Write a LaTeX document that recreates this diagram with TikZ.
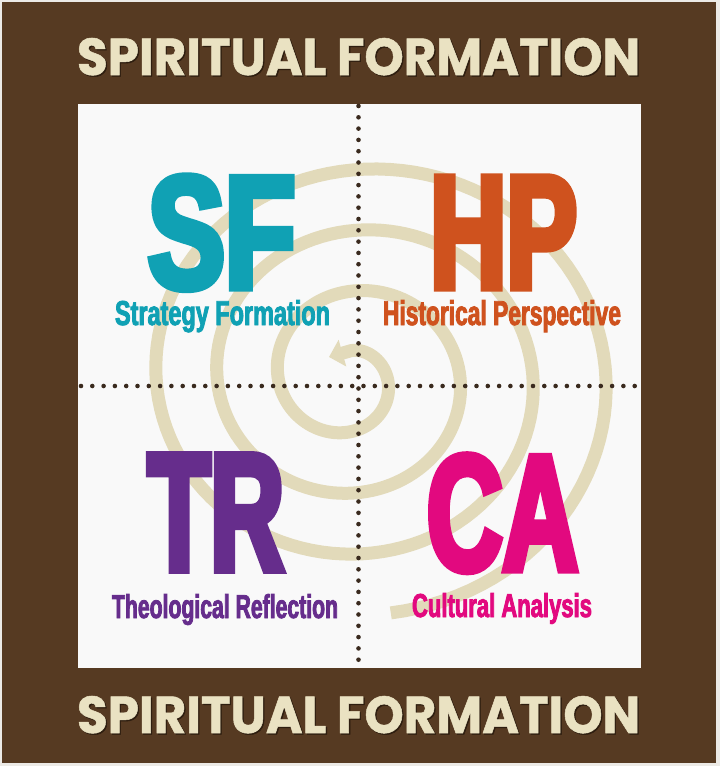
\documentclass[tikz,border=0pt]{standalone}
\usepackage{fontspec}
\usepackage{graphicx}
\setmainfont{Liberation Sans}
\newfontfamily\heavy{Liberation Sans}[BoldFeatures={FakeStretch=0.72, FakeBold=4.5}]
\newfontfamily\heavysub{Liberation Sans}[BoldFeatures={FakeStretch=0.68, FakeBold=2.5}]
\newfontfamily\titlefont{Poppins}[BoldFeatures={FakeBold=1}]
\usetikzlibrary{arrows.meta}
\definecolor{edgegray}{HTML}{ECEAE6}
\definecolor{framebrown}{HTML}{563A22}
\definecolor{shadowbrown}{HTML}{2E1E10}
\definecolor{creamtxt}{HTML}{EAE2C2}
\definecolor{paper}{HTML}{F9F9F9}
\definecolor{spiralc}{HTML}{E2DABA}
\definecolor{dotc}{HTML}{3A2A1E}
\definecolor{teal}{HTML}{10A1B4}
\definecolor{rust}{HTML}{CF521E}
\definecolor{grape}{HTML}{662D8C}
\definecolor{magentac}{HTML}{E2097F}
\tikzset{
  txt/.style={inner sep=0pt, outer sep=0pt, anchor=base west},
  dotline/.style={draw=dotc, line width=4.6pt, line cap=round, dash pattern=on 0pt off 11.3pt},
  spiralband/.style={draw=spiralc, line width=13pt}
}
\begin{document}
\begin{tikzpicture}[x=1pt,y=-1pt]
\useasboundingbox (0,0) rectangle (720,766);
\fill[edgegray] (0,0) rectangle (720,766);
\fill[framebrown] (2,2) rectangle (716,763);
\fill[paper] (78,104) rectangle (641,668);
% spiral
\coordinate (tipc) at (329,357);
\draw[spiralband, {Triangle[width=27pt,length=14pt]}-]
  (tipc) -- plot[domain=0.2:21.9, samples=400, variable=\t]
  ({346.2+0.955*\t+(22.5+10.66*\t)*sin(\t r)},{376.75-(24.75+9.7*\t)*cos(\t r)});
% dotted dividers
\coordinate (vtop) at (358.5,106);
\coordinate (vbot) at (358.5,668);
\coordinate (hleft) at (81,386);
\coordinate (hright) at (640,386);
\draw[dotline] (vtop) -- (vbot);
\draw[dotline] (hleft) -- (hright);
% titles
\node[txt, text=shadowbrown] (t1s) at (78.3,76.3) {\resizebox{563pt}{37pt}{\titlefont\bfseries SPIRITUAL FORMATION}};
\node[txt, text=creamtxt] (t1) at (77,75) {\resizebox{563pt}{37pt}{\titlefont\bfseries SPIRITUAL FORMATION}};
\node[txt, text=shadowbrown] (t2s) at (78.3,734.3) {\resizebox{563pt}{37pt}{\titlefont\bfseries SPIRITUAL FORMATION}};
\node[txt, text=creamtxt] (t2) at (77,733) {\resizebox{563pt}{37pt}{\titlefont\bfseries SPIRITUAL FORMATION}};
% quadrant letters
\node[txt, text=teal] (sf) at (148,288) {\resizebox{147pt}{112pt}{\heavy\bfseries SF}};
\node[txt, text=teal] (sfl) at (115,325) {\resizebox{215pt}{25pt}{\heavysub\bfseries Strategy Formation}};
\node[txt, text=rust] (hp) at (430,288) {\resizebox{147pt}{111pt}{\heavy\bfseries HP}};
\node[txt, text=rust] (hpl) at (383,325) {\resizebox{238pt}{25pt}{\heavysub\bfseries Historical Perspective}};
\node[txt, text=grape] (tr) at (148,570) {\resizebox{136pt}{115pt}{\heavy\bfseries TR}};
\node[txt, text=grape] (trl) at (112,618) {\resizebox{226pt}{24pt}{\heavysub\bfseries Theological Reflection}};
\node[txt, text=magentac] (ca) at (427,570) {\resizebox{151pt}{115pt}{\heavy\bfseries CA}};
\node[txt, text=magentac] (cal) at (412,617) {\resizebox{180pt}{24pt}{\heavysub\bfseries Cultural Analysis}};
\end{tikzpicture}
\end{document}
